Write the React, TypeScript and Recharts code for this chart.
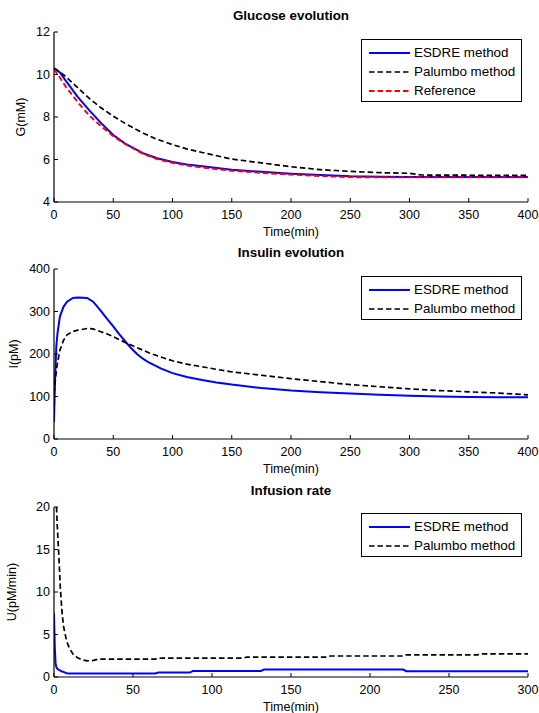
import React from 'react';
import { LineChart, Line, XAxis, YAxis } from 'recharts';

const FONT = '"Liberation Sans", Arial, Helvetica, sans-serif';

// Glucose evolution (mM)
const glucoseTime = [0, 5, 10, 20, 30, 40, 50, 60, 75, 87, 100, 112, 125, 150, 175, 200, 225, 250, 275, 300, 310, 350, 400];
const glucoseEsdre = [10.3, 10.1, 9.7, 8.95, 8.3, 7.7, 7.15, 6.75, 6.3, 6.06, 5.88, 5.77, 5.68, 5.52, 5.42, 5.33, 5.27, 5.21, 5.19, 5.18, 5.18, 5.18, 5.18];
const glucosePalumbo = [10.3, 10.12, 9.9, 9.38, 8.86, 8.42, 8.04, 7.7, 7.25, 6.95, 6.7, 6.5, 6.33, 6.02, 5.84, 5.66, 5.52, 5.44, 5.38, 5.35, 5.27, 5.26, 5.26];
const glucoseReference = [10.25, 9.85, 9.42, 8.7, 8.05, 7.55, 7.1, 6.73, 6.27, 6.02, 5.84, 5.72, 5.62, 5.47, 5.37, 5.29, 5.22, 5.17, 5.16, 5.16, 5.16, 5.16, 5.16];

// Insulin evolution (pM)
const insulinTime = [0, 1, 2, 3, 5, 8, 11, 16, 20, 28, 33, 39, 45, 50, 55, 60, 65, 70, 75, 80, 90, 100, 112, 125, 137, 150, 175, 200, 225, 250, 275, 300, 325, 350, 375, 400];
const insulinEsdre = [40, 150, 220, 250, 288, 311, 323, 332, 333, 332, 323, 303, 282, 265, 247, 230, 214, 200, 189, 180, 166, 155, 146, 139, 133, 128, 120, 114, 110, 107, 104, 102, 100, 99, 98, 98];
const insulinPalumbo = [107, 135, 162, 180, 209, 232, 245, 253, 256, 260, 259, 253, 247, 241, 234, 227, 221, 215, 209, 203, 193, 184, 176, 170, 164, 158, 150, 142, 135, 128, 123, 118, 114, 111, 108, 104];

// Infusion rate (pM/min)
const infusionTime = [0, 0.5, 1, 1.5, 2, 3, 4, 5, 6, 8, 10, 12, 15, 18, 21, 25, 28, 64, 66, 86, 88, 120, 122, 131, 133, 173, 175, 221, 223, 268, 270, 300];
const infusionEsdre = [7.5, 3.5, 1.6, 1.2, 1.0, 0.85, 0.75, 0.65, 0.6, 0.45, 0.42, 0.42, 0.42, 0.42, 0.42, 0.42, 0.42, 0.42, 0.52, 0.52, 0.72, 0.72, 0.72, 0.72, 0.88, 0.88, 0.88, 0.88, 0.68, 0.68, 0.68, 0.68];
const infusionPalumbo = [28, 26, 23, 20.5, 18, 14.5, 10.5, 7.8, 6.0, 4.2, 3.3, 2.7, 2.25, 2.0, 1.9, 1.95, 2.1, 2.1, 2.22, 2.22, 2.22, 2.22, 2.35, 2.35, 2.35, 2.35, 2.47, 2.47, 2.6, 2.6, 2.73, 2.73];

const timeTicks400 = [0, 50, 100, 150, 200, 250, 300, 350, 400];
const timeTicks300 = [0, 50, 100, 150, 200, 250, 300];
const glucoseTicks = [4, 6, 8, 10, 12];
const insulinTicks = [0, 100, 200, 300, 400];
const infusionTicks = [0, 5, 10, 15, 20];

const toRows = (time: number[], cols: Record<string, number[]>) =>
  time.map((t, i) => {
    const row: Record<string, number> = { t };
    Object.keys(cols).forEach(k => {
      row[k] = cols[k][i];
    });
    return row;
  });

interface SeriesStyle {
  key: string;
  name: string;
  color: string;
  dash?: string;
  width: number;
}

const ESDRE: SeriesStyle = { key: 'esdre', name: 'ESDRE method', color: '#0000ff', width: 2 };
const PALUMBO: SeriesStyle = { key: 'palumbo', name: 'Palumbo method', color: '#000000', dash: '5.5 3', width: 1.7 };
const REFERENCE: SeriesStyle = { key: 'reference', name: 'Reference', color: '#ff0000', dash: '5.5 3', width: 1.9 };

const PLOT_LEFT = 54;
const PLOT_RIGHT = 528;
const Y_AXIS_W = 40;
const X_AXIS_H = 30;

interface PanelProps {
  top: number;
  height: number;
  plotTop: number;
  plotBottom: number;
  rows: Record<string, number>[];
  series: SeriesStyle[];
  xMax: number;
  xTicks: number[];
  yDomain: [number, number];
  yTicks: number[];
  title: string;
  yLabel: string;
  yLabelX: number;
  legendTop: number;
}

const tickStyle = { fontSize: 12.5, fill: '#000', fontFamily: FONT };
const axisLine = { stroke: '#000', strokeWidth: 1.2 };
const noLabel = () => '';

const Panel: React.FC<PanelProps> = p => {
  const margin = {
    top: p.plotTop - p.top,
    bottom: p.top + p.height - p.plotBottom - X_AXIS_H,
    left: PLOT_LEFT - Y_AXIS_W,
    right: 539 - PLOT_RIGHT,
  };
  const midY = (p.plotTop + p.plotBottom) / 2;

  return (
    <>
      <div style={{ position: 'absolute', left: 0, top: p.top }}>
        <LineChart width={539} height={p.height} data={p.rows} margin={margin}>
          <XAxis
            dataKey="t"
            type="number"
            domain={[0, p.xMax]}
            ticks={p.xTicks}
            allowDataOverflow
            height={X_AXIS_H}
            tickSize={-4}
            tickMargin={12}
            tick={tickStyle}
            axisLine={axisLine}
            tickLine={{ stroke: '#000' }}
          />
          <XAxis
            xAxisId="top"
            orientation="top"
            dataKey="t"
            type="number"
            domain={[0, p.xMax]}
            ticks={p.xTicks}
            allowDataOverflow
            height={0}
            tickSize={-4}
            tickFormatter={noLabel}
            axisLine={axisLine}
            tickLine={{ stroke: '#000' }}
          />
          <YAxis
            type="number"
            domain={p.yDomain}
            ticks={p.yTicks}
            allowDataOverflow
            width={Y_AXIS_W}
            tickSize={-4}
            tickMargin={8}
            tick={tickStyle}
            axisLine={axisLine}
            tickLine={{ stroke: '#000' }}
          />
          <YAxis
            yAxisId="right"
            orientation="right"
            type="number"
            domain={p.yDomain}
            ticks={p.yTicks}
            allowDataOverflow
            width={0}
            tickSize={-4}
            tickFormatter={noLabel}
            axisLine={axisLine}
            tickLine={{ stroke: '#000' }}
          />
          {p.series.map(s => (
            <Line
              key={s.key}
              type="linear"
              dataKey={s.key}
              name={s.name}
              stroke={s.color}
              strokeWidth={s.width}
              strokeDasharray={s.dash}
              dot={false}
              activeDot={false}
              isAnimationActive={false}
            />
          ))}
        </LineChart>
      </div>

      <div
        style={{
          position: 'absolute',
          left: PLOT_LEFT,
          width: PLOT_RIGHT - PLOT_LEFT,
          top: p.plotTop - 24,
          height: 16,
          lineHeight: '16px',
          textAlign: 'center',
          fontWeight: 'bold',
          fontSize: 13.4,
          fontFamily: FONT,
        }}
      >
        {p.title}
      </div>

      <div
        style={{
          position: 'absolute',
          left: PLOT_LEFT,
          width: PLOT_RIGHT - PLOT_LEFT,
          top: p.plotBottom + 22,
          height: 16,
          lineHeight: '16px',
          textAlign: 'center',
          fontSize: 12.5,
          fontFamily: FONT,
        }}
      >
        Time(min)
      </div>

      <div
        style={{
          position: 'absolute',
          left: p.yLabelX,
          top: midY,
          transform: 'translate(-50%, -50%) rotate(-90deg)',
          whiteSpace: 'nowrap',
          fontSize: 12.5,
          lineHeight: '14px',
          fontFamily: FONT,
        }}
      >
        {p.yLabel}
      </div>

      <div
        style={{
          position: 'absolute',
          left: 361,
          top: p.legendTop,
          width: 159,
          border: '1px solid #000',
          background: '#fff',
          padding: '3px 0 1px 0',
          fontFamily: FONT,
          fontSize: 13.4,
        }}
      >
        {p.series.map(s => (
          <div key={s.key} style={{ height: 19, display: 'flex', alignItems: 'center' }}>
            <svg width={41} height={4} style={{ marginLeft: 7, marginRight: 4 }}>
              <line x1={0} y1={2} x2={41} y2={2} stroke={s.color} strokeWidth={s.width} strokeDasharray={s.dash} />
            </svg>
            <span>{s.name}</span>
          </div>
        ))}
      </div>
    </>
  );
};

export default function App() {
  const glucoseRows = toRows(glucoseTime, {
    esdre: glucoseEsdre,
    palumbo: glucosePalumbo,
    reference: glucoseReference,
  });
  const insulinRows = toRows(insulinTime, { esdre: insulinEsdre, palumbo: insulinPalumbo });
  const infusionRows = toRows(infusionTime, { esdre: infusionEsdre, palumbo: infusionPalumbo });

  return (
    <div style={{ position: 'absolute', left: 0, top: 0, width: 539, height: 713, background: '#fff', overflow: 'hidden' }}>
      <Panel
        top={0}
        height={240}
        plotTop={32}
        plotBottom={202}
        rows={glucoseRows}
        series={[ESDRE, PALUMBO, REFERENCE]}
        xMax={400}
        xTicks={timeTicks400}
        yDomain={[4, 12]}
        yTicks={glucoseTicks}
        title="Glucose evolution"
        yLabel="G(mM)"
        yLabelX={21}
        legendTop={39}
      />
      <Panel
        top={240}
        height={240}
        plotTop={269}
        plotBottom={439}
        rows={insulinRows}
        series={[ESDRE, PALUMBO]}
        xMax={400}
        xTicks={timeTicks400}
        yDomain={[0, 400]}
        yTicks={insulinTicks}
        title="Insulin evolution"
        yLabel="I(pM)"
        yLabelX={14}
        legendTop={276}
      />
      <Panel
        top={480}
        height={233}
        plotTop={507}
        plotBottom={677}
        rows={infusionRows}
        series={[ESDRE, PALUMBO]}
        xMax={300}
        xTicks={timeTicks300}
        yDomain={[0, 20]}
        yTicks={infusionTicks}
        title="Infusion rate"
        yLabel="U(pM/min)"
        yLabelX={12}
        legendTop={513}
      />
    </div>
  );
}
